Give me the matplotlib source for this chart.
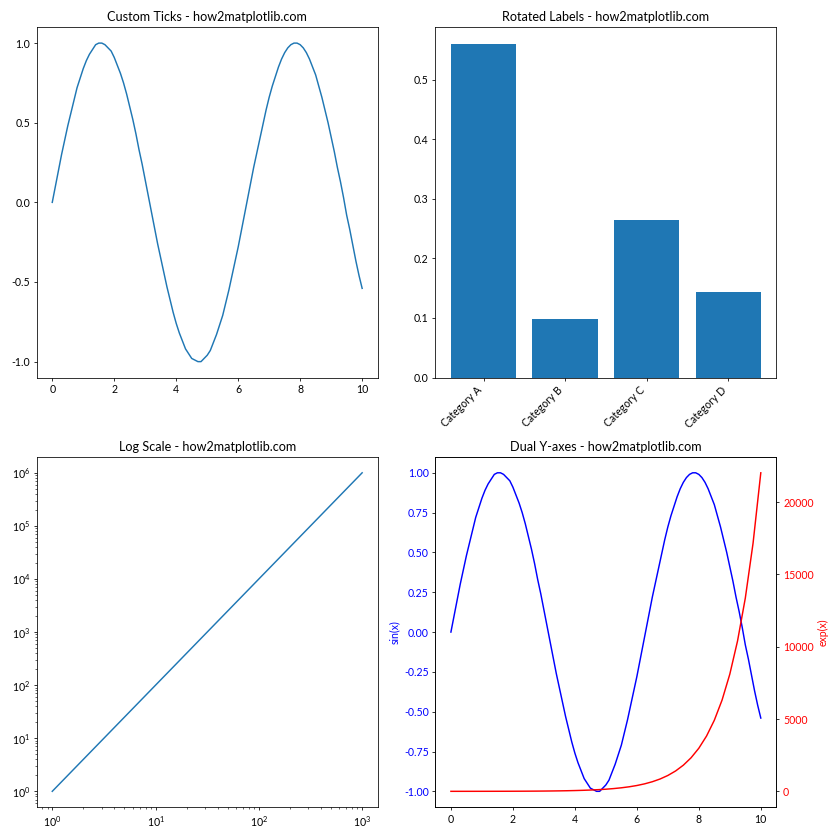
import numpy as np
import matplotlib.pyplot as plt

plt.rcParams['font.family'] = ['Lato', 'DejaVu Sans']
plt.rcParams['font.size'] = 10.8
plt.rcParams['axes.unicode_minus'] = False

# values
x_vals = [0.0, 0.1, 0.2, 0.3, 0.4, 0.5, 0.6, 0.7, 0.8, 0.9,
          1.0, 1.1, 1.2, 1.3, 1.4, 1.5, 1.6, 1.7, 1.8, 1.9,
          2.0, 2.1, 2.2, 2.3, 2.4, 2.5, 2.6, 2.7, 2.8, 2.9,
          3.0, 3.1, 3.2, 3.3, 3.4, 3.5, 3.6, 3.7, 3.8, 3.9,
          4.0, 4.1, 4.2, 4.3, 4.4, 4.5, 4.6, 4.7, 4.8, 4.9,
          5.0, 5.1, 5.2, 5.3, 5.4, 5.5, 5.6, 5.7, 5.8, 5.9,
          6.0, 6.1, 6.2, 6.3, 6.4, 6.5, 6.6, 6.7, 6.8, 6.9,
          7.0, 7.1, 7.2, 7.3, 7.4, 7.5, 7.6, 7.7, 7.8, 7.9,
          8.0, 8.1, 8.2, 8.3, 8.4, 8.5, 8.6, 8.7, 8.8, 8.9,
          9.0, 9.1, 9.2, 9.3, 9.4, 9.5, 9.6, 9.7, 9.8, 9.9,
          10.0]
sin_vals = [0.00, 0.10, 0.20, 0.30, 0.39, 0.48, 0.56, 0.64, 0.72, 0.78,
            0.84, 0.89, 0.93, 0.96, 0.99, 1.00, 1.00, 0.99, 0.97, 0.95,
            0.91, 0.86, 0.81, 0.75, 0.68, 0.60, 0.52, 0.43, 0.33, 0.24,
            0.14, 0.04, -0.06, -0.16, -0.26, -0.35, -0.44, -0.53, -0.61, -0.69,
            -0.76, -0.82, -0.87, -0.92, -0.95, -0.98, -0.99, -1.00, -1.00, -0.98,
            -0.96, -0.93, -0.88, -0.83, -0.77, -0.71, -0.63, -0.55, -0.46, -0.37,
            -0.28, -0.18, -0.08, 0.02, 0.12, 0.22, 0.31, 0.40, 0.49, 0.58,
            0.66, 0.73, 0.79, 0.85, 0.90, 0.94, 0.97, 0.99, 1.00, 1.00,
            0.99, 0.97, 0.94, 0.90, 0.85, 0.80, 0.73, 0.66, 0.58, 0.50,
            0.41, 0.32, 0.22, 0.13, 0.03, -0.08, -0.17, -0.27, -0.37, -0.46,
            -0.54]

exp_x = [0.0, 0.25, 0.5, 0.75, 1.0, 1.25, 1.5, 1.75, 2.0, 2.25, 2.5, 2.75, 3.0,
         3.25, 3.5, 3.75, 4.0, 4.25, 4.5, 4.75, 5.0, 5.25, 5.5, 5.75, 6.0, 6.25,
         6.5, 6.75, 7.0, 7.25, 7.5, 7.75, 8.0, 8.25, 8.5, 8.75, 9.0, 9.25, 9.5,
         9.75, 10.0]
exp_vals = [1, 1.28, 1.65, 2.12, 2.72, 3.49, 4.48, 5.75, 7.39, 9.49, 12.2, 15.6,
            20.1, 25.8, 33.1, 42.5, 54.6, 70.1, 90.0, 115.6, 148, 191, 245, 314,
            403, 518, 665, 854, 1097, 1408, 1808, 2322, 2981, 3828, 4915, 6311,
            8103, 10405, 13360, 17154, 22026]

custom_yticks = [-1.0, -0.5, 0.0, 0.5, 1.0]
custom_ylabels = ['-1.0', '-0.5', '0.0', '0.5', '1.0']

categories = ['Category A', 'Category B', 'Category C', 'Category D']
bar_vals = [0.56, 0.098, 0.264, 0.144]

log_x = [1, 10, 100, 1000]
log_y = [1, 100, 10000, 1000000]

fig, axes = plt.subplots(2, 2, figsize=(12, 12), dpi=70)

# Custom ticks
ax = axes[0, 0]
ax.plot(x_vals, sin_vals)
ax.set_yticks(custom_yticks)
ax.set_yticklabels(custom_ylabels)
ax.set_title('Custom Ticks - how2matplotlib.com')

# Rotated labels
ax = axes[0, 1]
ax.bar(categories, bar_vals)
ax.set_xticks(range(len(categories)))
ax.set_xticklabels(categories, rotation=45, ha='right')
ax.set_title('Rotated Labels - how2matplotlib.com')

# Log scale
ax = axes[1, 0]
ax.plot(log_x, log_y)
ax.set_xscale('log')
ax.set_yscale('log')
ax.set_title('Log Scale - how2matplotlib.com')

# Dual y-axes
ax = axes[1, 1]
ax.plot(x_vals, sin_vals, color='blue')
ax.set_ylabel('sin(x)', color='blue')
ax.tick_params(axis='y', labelcolor='blue')
ax2 = ax.twinx()
ax2.plot(exp_x, exp_vals, color='red')
ax2.set_ylabel('exp(x)', color='red')
ax2.tick_params(axis='y', labelcolor='red')
ax.set_title('Dual Y-axes - how2matplotlib.com')

plt.tight_layout()
plt.savefig('out.png', dpi=70)
